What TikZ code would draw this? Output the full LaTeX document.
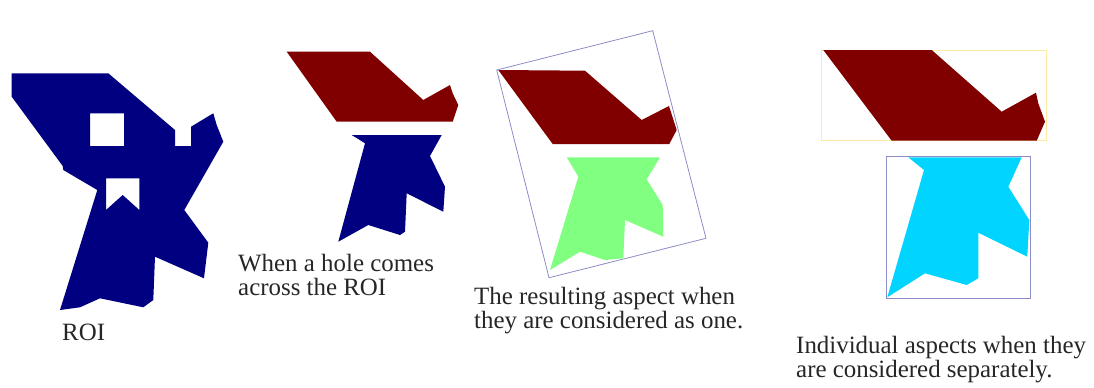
\documentclass[tikz,border=0pt]{standalone}
\usepackage{fontspec}
\setmainfont{Liberation Serif}
\definecolor{roiblue}{RGB}{0,0,128}
\definecolor{roired}{RGB}{128,0,0}
\definecolor{roigreen}{RGB}{128,255,128}
\definecolor{roicyan}{RGB}{0,212,255}
\definecolor{frameblue}{RGB}{140,140,200}
\definecolor{frameyellow}{RGB}{255,235,160}
\tikzset{
  blueshape/.style={fill=roiblue,draw=none},
  redshape/.style={fill=roired,draw=none},
  greenshape/.style={fill=roigreen,draw=none},
  cyanshape/.style={fill=roicyan,draw=none},
  caption/.style={anchor=base west,inner sep=0pt,align=left,text=black!85,font=\fontsize{25}{23.5}\selectfont}
}
\begin{document}
\begin{tikzpicture}[x=1bp,y=-1bp]
\useasboundingbox (0,0) rectangle (1094,387);
% ROI with holes
\fill[roiblue,even odd rule]
  (11.7,73.3) -- (108.3,73.3) -- (175,130) -- (175,146) -- (191,146) -- (191,126.7)
  -- (213.3,113.3) -- (216.7,125) -- (223.3,141.7) -- (184.3,210) -- (208.3,242.7)
  -- (204,278.3) -- (155,256.7) -- (153.3,300) -- (143.3,307.3) -- (100,298.3)
  -- (80,307.3) -- (60,310) -- (97.3,190) -- (63.3,170) -- (62.7,166) -- (11.7,96.7) -- cycle
  (90,113.3) rectangle (124,146)
  (106,178.3) -- (139.3,178.3) -- (139.3,210) -- (122.7,195) -- (106,210) -- cycle;
\node[caption] (roi) at (62,340) {ROI};
% figure 2
\fill[redshape] (286.7,51.7) -- (370,51.7) -- (423.3,100) -- (450,85) -- (452.7,93.3)
  -- (458.3,105) -- (452.7,121.7) -- (336.7,121.7) -- cycle;
\fill[blueshape] (351.7,135) -- (441.7,135) -- (430,156) -- (445,186.7) -- (443.3,211.7)
  -- (406.7,193.3) -- (405,231.7) -- (400,235) -- (368.3,225) -- (338.3,241.7) -- (365,143.3) -- cycle;
\node[caption] (hole) at (238,295) {When a hole comes\\across the ROI};
% figure 3
\draw[frameblue,line width=0.8bp] (496.7,70) -- (652.7,30.7) -- (706,238.3) -- (549,277.7) -- cycle;
\fill[redshape] (498.3,70) -- (585,70.7) -- (641.7,120) -- (669,106) -- (676.7,130)
  -- (669.3,144) -- (552.7,144) -- cycle;
\fill[greenshape] (566.7,157.3) -- (660,157.3) -- (646.7,179.3) -- (662.7,205) -- (663.3,236.7)
  -- (625,220) -- (623.3,258.3) -- (605,260) -- (580,251.7) -- (550,270) -- (578.3,176.7) -- cycle;
\node[caption] (one) at (474,328) {The resulting aspect when\\they are considered as one.};
% figure 4
\draw[frameyellow,line width=1bp] (821.7,50) rectangle (1046.7,140.7);
\fill[redshape] (823.3,50) -- (931.7,50) -- (1001.7,111.7) -- (1036,92.7) -- (1038.3,103.3)
  -- (1045,121.7) -- (1036.7,140.7) -- (891.7,140.7) -- cycle;
\draw[frameblue,line width=1bp] (886.7,156.7) rectangle (1030,298.3);
\fill[cyanshape] (908.3,157.3) -- (1021.7,157.3) -- (1008.3,186.7) -- (1029.3,220) -- (1027.3,256.7)
  -- (978.3,232.7) -- (978.3,278.3) -- (966.7,285) -- (925,273.3) -- (887.3,297.3) -- (924,170) -- cycle;
\node[caption] (sep) at (796,377) {Individual aspects when they\\are considered separately.};
\end{tikzpicture}
\end{document}
